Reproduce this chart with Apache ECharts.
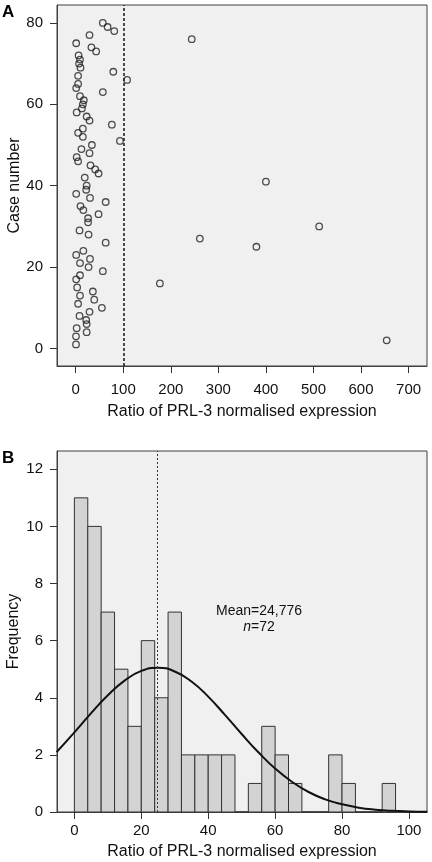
<!DOCTYPE html>
<html>
<head>
<meta charset="utf-8">
<script src="https://cdn.jsdelivr.net/npm/echarts@6/dist/echarts.min.js"></script>
<style>
html,body{margin:0;padding:0;background:#fff;}
#chart{width:432px;height:862px;}
</style>
</head>
<body>
<div id="chart"></div>
<script>
// ---- Panel A data: case number vs ratio ----
const caseNumbers = [1,2,3,4,5,6,7,8,9,10,11,12,13,14,15,16,17,18,19,20,21,22,23,24,25,26,27,28,29,30,31,32,33,34,35,36,37,38,39,40,41,42,43,44,45,46,47,48,49,50,51,52,53,54,55,56,57,58,59,60,61,62,63,64,65,66,67,68,69,70,71,72,73,74,75,76,77,78,79,80];
const ratios = [0.6,654,0.6,23,2,23,22,8,29,55,5,39,9,36,3,177,1,9,57,27,9,30,1,16,380,63,261,27,8,512,26,26,48,16,10,63,30,1,22,23,400,19,48,41,31,5,2,29,12,34,93,15,5,15,76,29,23,2,13,15,17,9,57,1,5,108,5,79,10,7,9,6,43,33,1,244,29,81,67,57];
const cutoffA = 100;
const xTicksA = [0,100,200,300,400,500,600,700];
const yTicksA = [0,20,40,60,80];

// ---- Panel B data: histogram ----
const binEdges = [0,4,8,12,16,20,24,28,32,36,40,44,48,52,56,60,64,68,72,76,80,84,88,92,96];
const binCounts = [11,10,7,5,3,6,4,7,2,2,2,2,0,1,3,2,1,0,0,2,1,0,0,1];
const curveX = [-5.3,0,5,10,15,20,25,30,35,40,45,50,55,60,65,70,75,80,85,90,95,100,105.5];
const curveY = [2.10,2.79,3.46,4.09,4.60,4.94,5.05,4.92,4.57,4.04,3.40,2.73,2.09,1.52,1.06,0.70,0.44,0.27,0.15,0.08,0.04,0.02,0.01];
const meanB = 24.776;
const xTicksB = [0,20,40,60,80,100];
const yTicksB = [0,2,4,6,8,10,12];

const FONT = '"Liberation Sans", Arial, Helvetica, sans-serif';
const scatterData = caseNumbers.map((c, i) => [ratios[i], c]);
const histData = binCounts.map((v, i) => [binEdges[i], binEdges[i + 1], v]);
const curveData = curveX.map((x, i) => [x, curveY[i]]);

function xAxisCfg(gi, min, max, ticks, margin, nameGap) {
  return {
    type: 'value', gridIndex: gi, min: min, max: max,
    name: 'Ratio of PRL-3 normalised expression',
    nameLocation: 'middle', nameGap: nameGap, nameMoveOverlap: false,
    nameTextStyle: {fontFamily: FONT, fontSize: 16, color: '#111'},
    axisLine: {show: true, onZero: false, lineStyle: {color: '#404040', width: 1}},
    axisTick: {show: true, length: 7, customValues: ticks, lineStyle: {color: '#333', width: 1}},
    axisLabel: {customValues: ticks, fontFamily: FONT, fontSize: 15, color: '#111', margin: margin},
    splitLine: {show: false}
  };
}
function yAxisCfg(gi, min, max, ticks, name, nameGap) {
  return {
    type: 'value', gridIndex: gi, min: min, max: max,
    name: name, nameLocation: 'middle', nameGap: nameGap, nameMoveOverlap: false,
    nameTextStyle: {fontFamily: FONT, fontSize: 16, color: '#111'},
    axisLine: {show: true, onZero: false, lineStyle: {color: '#404040', width: 1}},
    axisTick: {show: true, length: 7, customValues: ticks, lineStyle: {color: '#333', width: 1}},
    axisLabel: {customValues: ticks, fontFamily: FONT, fontSize: 15, color: '#111', margin: 14},
    splitLine: {show: false}
  };
}

const chart = echarts.init(document.getElementById('chart'), null, {renderer: 'canvas'});
chart.setOption({
  animation: false,
  backgroundColor: '#ffffff',
  grid: [
    {left: 57, top: 5, width: 370, height: 361, show: true, backgroundColor: '#f0f0f0', borderColor: '#404040', borderWidth: 1, containLabel: false, outerBoundsMode: 'none'},
    {left: 57, top: 451, width: 370, height: 361, show: true, backgroundColor: '#f0f0f0', borderColor: '#404040', borderWidth: 1, containLabel: false, outerBoundsMode: 'none'}
  ],
  xAxis: [
    xAxisCfg(0, -39.4, 738.8, xTicksA, 16, 38),
    xAxisCfg(1, -5.2, 105.4, xTicksB, 11, 32)
  ],
  yAxis: [
    yAxisCfg(0, -4.3, 84.4, yTicksA, 'Case number', 34),
    yAxisCfg(1, 0, 12.64, yTicksB, 'Frequency', 35)
  ],
  graphic: [
    {type: 'text', left: 2, top: 4, style: {text: 'A', font: 'bold 17px ' + FONT, fill: '#000'}},
    {type: 'text', left: 2, top: 450, style: {text: 'B', font: 'bold 17px ' + FONT, fill: '#000'}},
    {type: 'text', x: 259, y: 611, style: {text: 'Mean=24,776', font: '14px ' + FONT, fill: '#111', align: 'center', verticalAlign: 'middle'}},
    {type: 'text', x: 259, y: 627, style: {text: '{i|n}=72', font: '14px ' + FONT, fill: '#111', align: 'center', verticalAlign: 'middle',
      rich: {i: {fontStyle: 'italic', fontFamily: FONT, fontSize: 14, fill: '#111'}}}}
  ],
  series: [
    {
      type: 'scatter', xAxisIndex: 0, yAxisIndex: 0,
      data: scatterData, symbol: 'circle', symbolSize: 6.5,
      itemStyle: {color: 'rgba(0,0,0,0)', borderColor: '#222', borderWidth: 1.3},
      markLine: {
        silent: true, symbol: 'none', label: {show: false},
        lineStyle: {color: '#222', type: [3, 2], width: 1.6},
        data: [{xAxis: cutoffA}]
      },
      z: 3
    },
    {
      type: 'custom', xAxisIndex: 1, yAxisIndex: 1,
      data: histData,
      encode: {x: [0, 1], y: 2},
      renderItem: function (params, api) {
        const p0 = api.coord([api.value(0), 0]);
        const p1 = api.coord([api.value(1), api.value(2)]);
        return {
          type: 'rect',
          shape: {x: p0[0], y: p1[1], width: p1[0] - p0[0], height: p0[1] - p1[1]},
          style: {fill: '#d3d3d3', stroke: '#333', lineWidth: 1}
        };
      },
      z: 2
    },
    {
      type: 'line', xAxisIndex: 1, yAxisIndex: 1,
      data: curveData, smooth: true, symbol: 'none',
      lineStyle: {color: '#111', width: 2},
      markLine: {
        silent: true, symbol: 'none', label: {show: false},
        lineStyle: {color: '#333', type: [2, 2], width: 1},
        data: [{xAxis: meanB}]
      },
      z: 4
    }
  ]
});
</script>
</body>
</html>
